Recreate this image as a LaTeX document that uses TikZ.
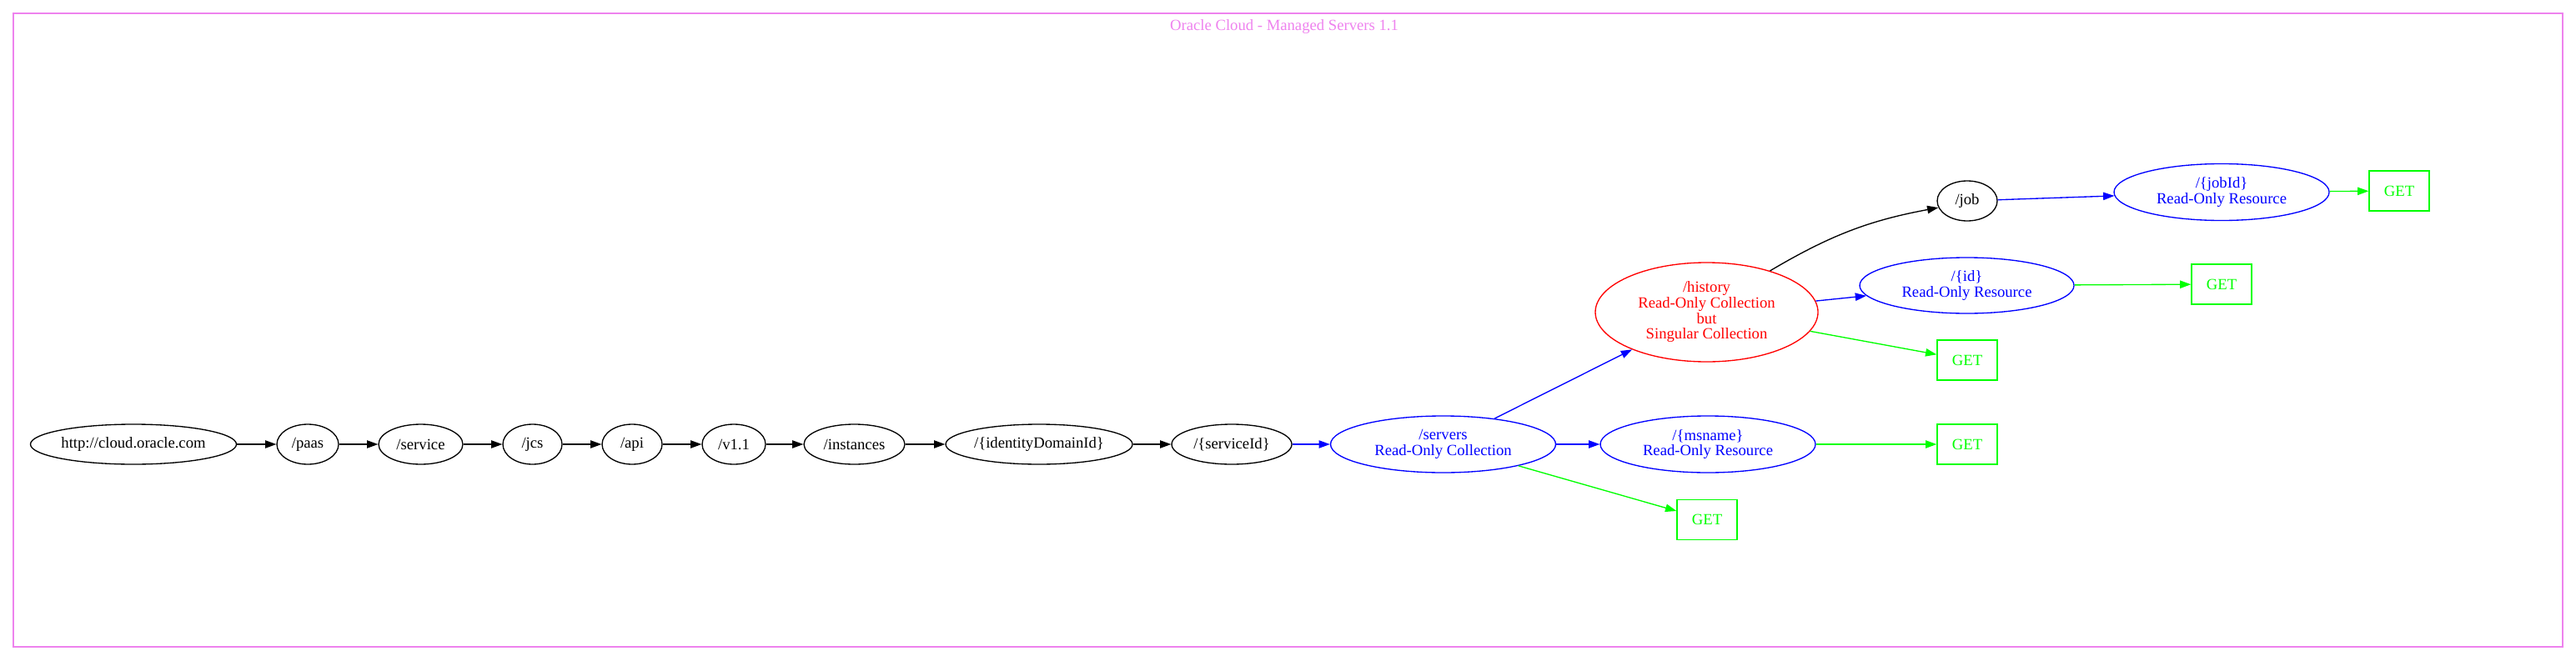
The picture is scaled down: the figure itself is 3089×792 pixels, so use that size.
\documentclass[tikz,border=0pt]{standalone}
\usepackage{fontspec}
\setmainfont{Liberation Serif}
\usetikzlibrary{shapes.geometric,arrows.meta}
\definecolor{gvblue}{RGB}{0,0,255}
\definecolor{gvred}{RGB}{255,0,0}
\definecolor{gvgreen}{RGB}{0,255,0}
\definecolor{gvviolet}{RGB}{238,130,238}
\tikzset{
  gvnode/.style={draw, line width=1pt, inner sep=0pt, align=center,
    font=\fontsize{14}{14}\selectfont},
  ell/.style={gvnode, ellipse},
  bluenode/.style={ell, draw=gvblue, text=gvblue, minimum height=51pt},
  getbox/.style={gvnode, rectangle, draw=gvgreen, text=gvgreen, minimum width=54pt, minimum height=36pt},
  edge/.style={line width=1pt, -{Triangle[length=10pt,width=7pt]}},
  bedge/.style={edge, draw=gvblue},
  gedge/.style={edge, draw=gvgreen},
  kedge/.style={edge, draw=black}
}
\begin{document}
\begin{tikzpicture}[x=0.75pt,y=-0.75pt]
\useasboundingbox (0,0) rectangle (3089,792);
\draw[gvviolet, line width=1pt] (16,16) rectangle (3073,776);
\node[text=gvviolet, font=\fontsize{14}{14}\selectfont] (title) at (1540,32) {Oracle Cloud - Managed Servers 1.1};

\node[ell, minimum width=185.25pt, minimum height=36pt] (http) at (160,533) {http://cloud.oracle.com};
\node[ell, minimum width=55.5pt, minimum height=36pt] (paas) at (369,533) {/paas};
\node[ell, minimum width=75.75pt, minimum height=36pt] (service) at (504.5,533) {/service};
\node[ell, minimum width=53.25pt, minimum height=36pt] (jcs) at (638.5,533) {/jcs};
\node[ell, minimum width=54pt, minimum height=36pt] (api) at (758,533) {/api};
\node[ell, minimum width=57pt, minimum height=36pt] (v11) at (880,533) {/v1.1};
\node[ell, minimum width=90.75pt, minimum height=36pt] (instances) at (1024.5,533) {/instances};
\node[ell, minimum width=168pt, minimum height=36pt] (idd) at (1246,533) {/\{identityDomainId\}};
\node[ell, minimum width=108pt, minimum height=36pt] (sid) at (1477,533) {/\{serviceId\}};

\node[bluenode, minimum width=202.5pt] (servers) at (1730.5,533) {/servers\\Read-Only Collection};
\node[bluenode, minimum width=193.5pt] (msname) at (2048,533) {/\{msname\}\\Read-Only Resource};
\node[getbox] (getms) at (2359,533) {GET};
\node[getbox] (getsrv) at (2047,623.5) {GET};

\node[ell, draw=gvred, text=gvred, minimum width=200.25pt, minimum height=89.25pt] (history) at (2046.5,374.5) {/history\\Read-Only Collection\\but\\Singular Collection};
\node[bluenode, minimum width=192.75pt, minimum height=50.25pt] (id) at (2358.5,342.5) {/\{id\}\\Read-Only Resource};
\node[getbox] (getid) at (2664,341) {GET};
\node[getbox] (gethist) at (2359,432) {GET};

\node[ell, minimum width=54pt, minimum height=36pt] (job) at (2359,241) {/job};
\node[bluenode, minimum width=193.5pt] (jobid) at (2664,230.5) {/\{jobId\}\\Read-Only Resource};
\node[getbox] (getjob) at (2877,229) {GET};

\draw[kedge] (http) -- (paas);
\draw[kedge] (paas) -- (service);
\draw[kedge] (service) -- (jcs);
\draw[kedge] (jcs) -- (api);
\draw[kedge] (api) -- (v11);
\draw[kedge] (v11) -- (instances);
\draw[kedge] (instances) -- (idd);
\draw[kedge] (idd) -- (sid);
\draw[bedge] (sid) -- (servers);
\draw[bedge] (servers) -- (history);
\draw[bedge] (servers) -- (msname);
\draw[gedge] (servers) -- (getsrv);
\draw[gedge] (msname) -- (getms);
\draw[kedge] (history) to[bend left=10] (job);
\draw[bedge] (history) -- (id);
\draw[gedge] (history) -- (gethist);
\draw[gedge] (id) -- (getid);
\draw[bedge] (job) -- (jobid);
\draw[gedge] (jobid) -- (getjob);
\end{tikzpicture}
\end{document}
